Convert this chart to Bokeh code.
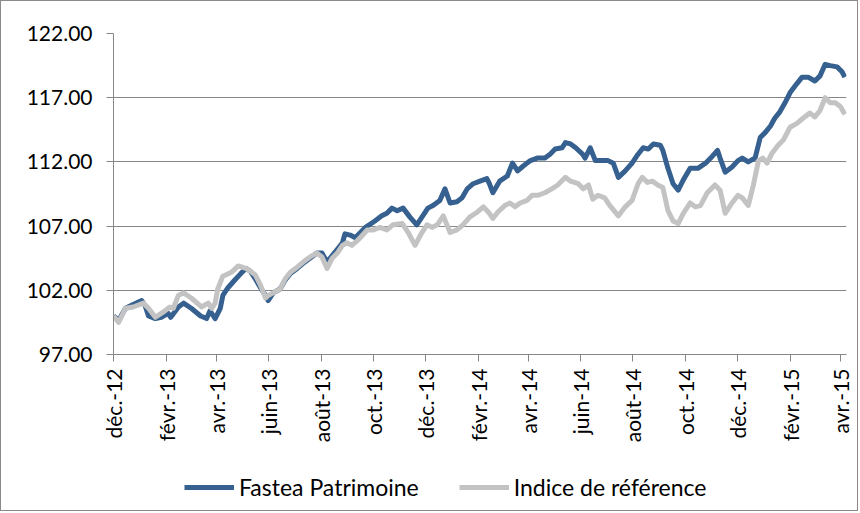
import math
import pandas as pd
from bokeh.plotting import figure
from bokeh.layouts import column
from bokeh.models import Range1d, FixedTicker, NumeralTickFormatter, Legend, LegendItem, ColumnDataSource
from bokeh.embed import file_html
from bokeh.resources import INLINE

fastea_dates = [
    "2012-12-01", "2012-12-07", "2012-12-15", "2012-12-24", "2013-01-03", "2013-01-07", "2013-01-11",
    "2013-01-19", "2013-01-26", "2013-02-03", "2013-02-06", "2013-02-15", "2013-02-21", "2013-03-02",
    "2013-03-13", "2013-03-20", "2013-03-24", "2013-03-30", "2013-04-05", "2013-04-08", "2013-04-14",
    "2013-04-22", "2013-04-29", "2013-05-05", "2013-05-10", "2013-05-16", "2013-05-22", "2013-05-28",
    "2013-05-31", "2013-06-06", "2013-06-14", "2013-06-20", "2013-06-26", "2013-07-04", "2013-07-11",
    "2013-07-19", "2013-07-27", "2013-08-02", "2013-08-08", "2013-08-14", "2013-08-20", "2013-08-26",
    "2013-08-29", "2013-09-04", "2013-09-10", "2013-09-16", "2013-09-22", "2013-10-03", "2013-10-11",
    "2013-10-17", "2013-10-23", "2013-10-29", "2013-11-05", "2013-11-13", "2013-11-21", "2013-11-28",
    "2013-12-04", "2013-12-10", "2013-12-18", "2013-12-24", "2013-12-30", "2014-01-07", "2014-01-13",
    "2014-01-19", "2014-01-26", "2014-02-03", "2014-02-11", "2014-02-14", "2014-02-18", "2014-02-26",
    "2014-03-07", "2014-03-13", "2014-03-19", "2014-03-26", "2014-04-03", "2014-04-11", "2014-04-20",
    "2014-04-26", "2014-05-02", "2014-05-10", "2014-05-14", "2014-05-20", "2014-05-26", "2014-06-03",
    "2014-06-06", "2014-06-12", "2014-06-18", "2014-06-26", "2014-07-03", "2014-07-09", "2014-07-15",
    "2014-07-23", "2014-07-31", "2014-08-07", "2014-08-13", "2014-08-19", "2014-08-25", "2014-09-02",
    "2014-09-05", "2014-09-11", "2014-09-17", "2014-09-23", "2014-09-29", "2014-10-07", "2014-10-16",
    "2014-10-25", "2014-10-31", "2014-11-08", "2014-11-11", "2014-11-17", "2014-11-25", "2014-12-02",
    "2014-12-07", "2014-12-14", "2014-12-22", "2014-12-28", "2015-01-03", "2015-01-09", "2015-01-14",
    "2015-01-20", "2015-01-26", "2015-02-01", "2015-02-09", "2015-02-15", "2015-02-22", "2015-03-02",
    "2015-03-08", "2015-03-14", "2015-03-20", "2015-03-28", "2015-04-03", "2015-04-06",
]
fastea_values = [
    100.0, 99.65, 100.6, 100.9, 101.2, 100.8, 100.0,
    99.8, 99.9, 100.2, 99.9, 100.7, 101.0, 100.6,
    100.0, 99.8, 100.4, 99.8, 100.6, 101.6, 102.2,
    102.8, 103.3, 103.7, 103.5, 102.9, 102.2, 101.6,
    101.2, 101.8, 102.1, 102.8, 103.3, 103.7, 104.1,
    104.5, 104.9, 104.9, 104.2, 104.7, 105.2, 105.7,
    106.4, 106.3, 106.1, 106.5, 106.9, 107.4, 107.8,
    108.0, 108.4, 108.2, 108.4, 107.7, 107.1, 107.8,
    108.4, 108.6, 109.0, 109.9, 108.8, 108.9, 109.2,
    109.9, 110.3, 110.5, 110.7, 110.3, 109.6, 110.5,
    110.9, 111.9, 111.3, 111.7, 112.1, 112.3, 112.3,
    112.6, 113.0, 113.1, 113.5, 113.4, 113.1, 112.6,
    112.3, 113.1, 112.1, 112.1, 112.1, 111.9, 110.8,
    111.3, 111.9, 112.6, 113.1, 113.0, 113.4, 113.3,
    112.9, 111.5, 110.3, 109.8, 110.6, 111.5, 111.5,
    111.9, 112.3, 112.9, 112.3, 111.2, 111.6, 112.1,
    112.3, 112.0, 112.3, 113.9, 114.3, 114.8, 115.4,
    115.9, 116.6, 117.4, 118.1, 118.6, 118.6, 118.3,
    118.7, 119.6, 119.5, 119.4, 119.0, 118.6,
]

indice_dates = [
    "2012-12-01", "2012-12-07", "2012-12-15", "2012-12-24", "2013-01-05", "2013-01-11", "2013-01-19",
    "2013-01-28", "2013-02-05", "2013-02-09", "2013-02-15", "2013-02-21", "2013-03-02", "2013-03-14",
    "2013-03-22", "2013-03-26", "2013-03-30", "2013-04-02", "2013-04-08", "2013-04-18", "2013-04-26",
    "2013-05-05", "2013-05-10", "2013-05-16", "2013-05-22", "2013-05-28", "2013-05-31", "2013-06-06",
    "2013-06-14", "2013-06-20", "2013-06-26", "2013-07-04", "2013-07-11", "2013-07-19", "2013-07-27",
    "2013-08-02", "2013-08-08", "2013-08-14", "2013-08-20", "2013-08-26", "2013-08-31", "2013-09-06",
    "2013-09-13", "2013-09-24", "2013-10-01", "2013-10-09", "2013-10-17", "2013-10-24", "2013-11-04",
    "2013-11-11", "2013-11-19", "2013-11-27", "2013-12-03", "2013-12-09", "2013-12-15", "2013-12-22",
    "2013-12-30", "2014-01-07", "2014-01-14", "2014-01-22", "2014-01-31", "2014-02-07", "2014-02-14",
    "2014-02-18", "2014-02-24", "2014-03-04", "2014-03-10", "2014-03-16", "2014-03-22", "2014-03-30",
    "2014-04-05", "2014-04-12", "2014-04-20", "2014-04-28", "2014-05-05", "2014-05-14", "2014-05-20",
    "2014-05-29", "2014-06-04", "2014-06-10", "2014-06-15", "2014-06-21", "2014-06-29", "2014-07-05",
    "2014-07-15", "2014-07-23", "2014-07-31", "2014-08-07", "2014-08-12", "2014-08-18", "2014-08-24",
    "2014-08-30", "2014-09-05", "2014-09-11", "2014-09-17", "2014-09-23", "2014-09-29", "2014-10-07",
    "2014-10-13", "2014-10-19", "2014-10-27", "2014-11-05", "2014-11-11", "2014-11-17", "2014-11-25",
    "2014-12-02", "2014-12-07", "2014-12-14", "2014-12-20", "2014-12-26", "2014-12-31", "2015-01-05",
    "2015-01-11", "2015-01-18", "2015-01-24", "2015-02-01", "2015-02-09", "2015-02-16", "2015-02-24",
    "2015-03-02", "2015-03-08", "2015-03-14", "2015-03-20", "2015-03-26", "2015-04-01", "2015-04-06",
]
indice_values = [
    100.0, 99.5, 100.6, 100.7, 101.0, 100.6, 99.9,
    100.3, 100.7, 100.6, 101.6, 101.8, 101.4, 100.7,
    101.0, 100.6, 101.0, 102.1, 103.1, 103.4, 103.9,
    103.7, 103.5, 103.2, 102.4, 101.4, 101.6, 101.8,
    102.1, 102.9, 103.4, 103.8, 104.2, 104.6, 104.9,
    104.6, 103.7, 104.5, 104.9, 105.5, 105.7, 105.5,
    105.9, 106.7, 106.7, 106.9, 106.7, 107.1, 107.2,
    106.5, 105.5, 106.5, 107.1, 106.9, 107.1, 107.8,
    106.5, 106.7, 107.1, 107.7, 108.1, 108.5, 108.0,
    107.6, 108.1, 108.6, 108.8, 108.5, 108.8, 109.0,
    109.4, 109.4, 109.6, 109.9, 110.2, 110.8, 110.5,
    110.3, 109.9, 110.2, 109.1, 109.4, 109.2, 108.6,
    107.8, 108.5, 109.0, 110.3, 110.8, 110.4, 110.5,
    110.2, 110.0, 108.2, 107.4, 107.2, 108.0, 108.8,
    108.5, 108.6, 109.6, 110.2, 109.8, 108.0, 108.8,
    109.4, 109.2, 108.6, 110.2, 112.1, 112.3, 111.9,
    112.7, 113.3, 113.7, 114.7, 115.0, 115.4, 115.8,
    115.5, 116.0, 117.0, 116.6, 116.6, 116.3, 115.7,
]

tick_dates = ["2012-12-01", "2013-02-01", "2013-04-01", "2013-06-01", "2013-08-01", "2013-10-01",
              "2013-12-01", "2014-02-01", "2014-04-01", "2014-06-01", "2014-08-01", "2014-10-01",
              "2014-12-01", "2015-02-01", "2015-04-01"]
tick_labels = ["déc.-12", "févr.-13", "avr.-13", "juin-13", "août-13", "oct.-13", "déc.-13",
               "févr.-14", "avr.-14", "juin-14", "août-14", "oct.-14", "déc.-14", "févr.-15", "avr.-15"]
y_ticks = [97, 102, 107, 112, 117, 122]
series_names = ["Fastea Patrimoine", "Indice de référence"]
series_colors = ["#35608F", "#C3C3C3"]

FONT = "Lato"
AXIS_COLOR = "#868686"

# main chart
p = figure(width=856, height=460, output_backend="svg", toolbar_location=None,
           x_axis_type="datetime",
           x_range=Range1d(pd.Timestamp("2012-12-01"), pd.Timestamp("2015-04-08")),
           y_range=Range1d(97, 122),
           min_border_left=112, min_border_right=11, min_border_top=32, min_border_bottom=107)
p.outline_line_color = None

src_f = ColumnDataSource(dict(x=pd.to_datetime(fastea_dates), y=fastea_values))
src_i = ColumnDataSource(dict(x=pd.to_datetime(indice_dates), y=indice_values))
p.line("x", "y", source=src_f, line_color=series_colors[0], line_width=5, line_join="round")
p.line("x", "y", source=src_i, line_color=series_colors[1], line_width=5, line_join="round")

tick_ms = [pd.Timestamp(d).value / 1e6 for d in tick_dates]
p.xaxis.ticker = FixedTicker(ticks=tick_ms)
p.xaxis.major_label_overrides = {t: lab for t, lab in zip(tick_ms, tick_labels)}
p.xaxis.major_label_orientation = math.pi / 2
p.yaxis.ticker = FixedTicker(ticks=y_ticks)
p.yaxis.formatter = NumeralTickFormatter(format="0.00")

for ax in (p.xaxis, p.yaxis):
    ax.axis_line_color = AXIS_COLOR
    ax.major_tick_line_color = AXIS_COLOR
    ax.major_tick_in = 0
    ax.major_tick_out = 7
    ax.minor_tick_line_color = None
    ax.major_label_text_font = FONT
    ax.major_label_text_font_size = "21px"
    ax.major_label_text_color = "#000000"
p.yaxis.major_label_standoff = 14
p.xaxis.major_label_standoff = 7

p.xgrid.grid_line_color = None
p.ygrid.grid_line_color = AXIS_COLOR
p.ygrid.grid_line_width = 1
p.ygrid.ticker = FixedTicker(ticks=y_ticks)

# legend strip below the chart (its lines use the same data, outside its view)
lg = figure(width=856, height=49, output_backend="svg", toolbar_location=None,
            x_axis_location=None, y_axis_location=None, min_border=0,
            x_range=Range1d(0, 1), y_range=Range1d(0, 1))
lg.outline_line_color = None
lg.xgrid.grid_line_color = None
lg.ygrid.grid_line_color = None
lr_f = lg.line("x", "y", source=src_f, line_color=series_colors[0], line_width=5)
lr_i = lg.line("x", "y", source=src_i, line_color=series_colors[1], line_width=5)

legend = Legend(items=[LegendItem(label=series_names[0], renderers=[lr_f]),
                       LegendItem(label=series_names[1], renderers=[lr_i])],
                orientation="horizontal", location=(71, 9),
                glyph_width=50, glyph_height=20, label_standoff=5, spacing=40,
                padding=0, margin=0, border_line_color=None, background_fill_alpha=0,
                label_text_font=FONT, label_text_font_size="23px", label_text_color="#000000")
lg.add_layout(legend, "center")

layout = column(p, lg, spacing=0, styles={"border": "1px solid #8a8a8a"})

open("out.html", "w").write(file_html(layout, INLINE))
